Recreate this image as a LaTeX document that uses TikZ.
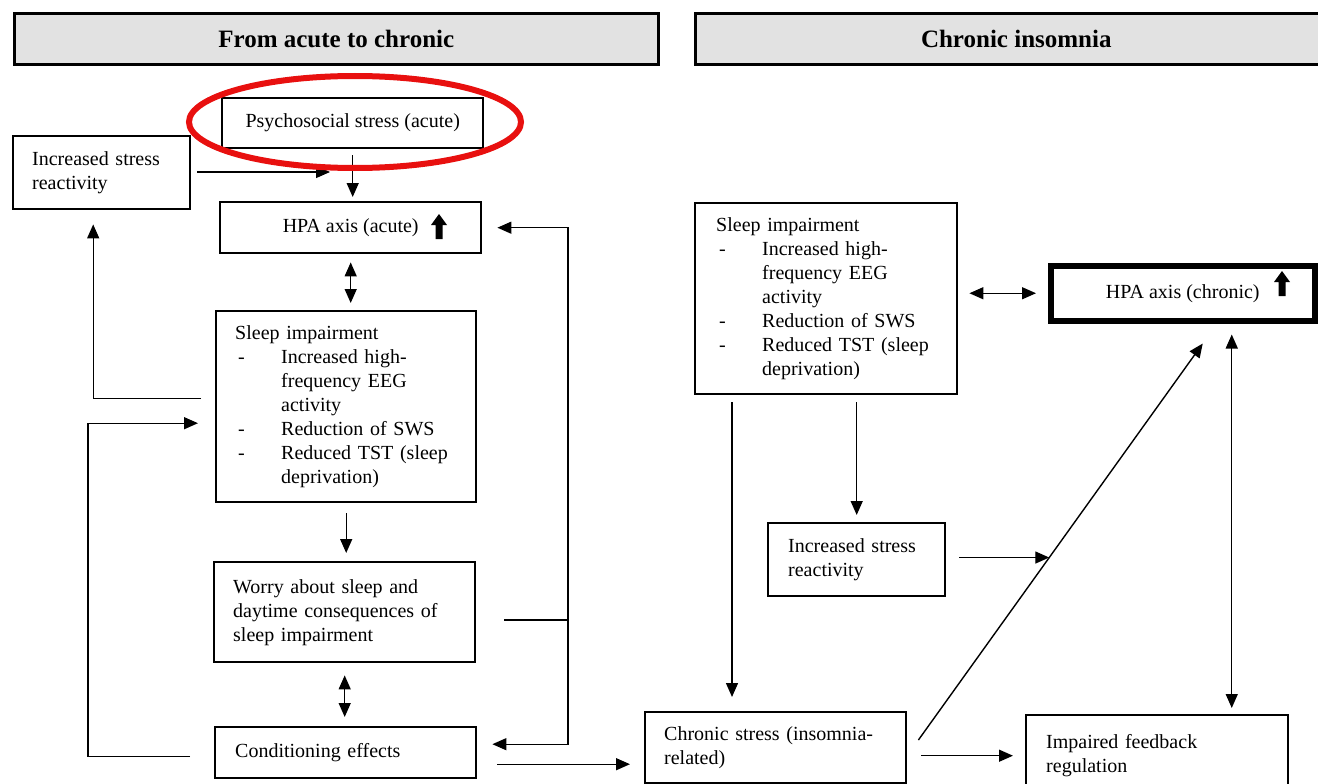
\documentclass[tikz,border=0pt]{standalone}
\usepackage{fontspec}
\setmainfont{Liberation Serif}
\usetikzlibrary{arrows.meta,calc}
\definecolor{hdrgray}{HTML}{E2E2E2}
\definecolor{ringred}{HTML}{E8100F}
\newcommand\dashitem[1]{\makebox[46pt][l]{\hspace{3pt}-}#1}
\newcommand\contitem[1]{\hspace*{46pt}#1}
\begin{document}
\begin{tikzpicture}[x=1pt,y=-1pt,
  box/.style={draw, line width=2.4pt, anchor=north west, inner ysep=0pt, font=\fontsize{20}{24}\selectfont},
  hdr/.style={box, fill=hdrgray, line width=2.6pt, font=\fontsize{25}{30}\selectfont\bfseries},
  arr/.style={line width=1.4pt, -{Triangle[length=14pt,width=12pt]}},
  dbl/.style={line width=1.4pt, {Triangle[length=14pt,width=12pt]}-{Triangle[length=14pt,width=12pt]}},
  ln/.style={line width=1.4pt},
  bigup/.pic={\fill (0,0) -- (-8,11) -- (-3.5,11) -- (-3.5,25) -- (3.5,25) -- (3.5,11) -- (8,11) -- cycle;}]
\useasboundingbox (0,0) rectangle (1318,784);

% headers
\node[hdr, minimum width=644, minimum height=51] (hdrL) at (13,12) {From acute to chronic};
\node[hdr, minimum width=642, minimum height=51] (hdrR) at (694,12) {Chronic insomnia};

% left column
\node[box, minimum width=261, minimum height=50] (psy) at (221,97) {Psychosocial stress (acute)};
\node[box, minimum width=177, minimum height=73, text width=139, inner xsep=19, align=left] (isrL) at (12,135) {Increased stress\\reactivity};
\node[box, minimum width=261, minimum height=51] (hpaA) at (219,201) {HPA axis (acute)};
\pic at (439,214) {bigup};
\node[box, minimum width=260, minimum height=191, text width=222, inner xsep=19, align=left] (sleepL) at (215,310) {Sleep impairment\\
\dashitem{Increased high-}\\
\contitem{frequency EEG}\\
\contitem{activity}\\
\dashitem{Reduction of SWS}\\
\dashitem{Reduced TST (sleep}\\
\contitem{deprivation)}};
\node[box, minimum width=261, minimum height=100, text width=223, inner xsep=19, align=left] (worry) at (213,561) {Worry about sleep and\\daytime consequences of\\sleep impairment};
\node[box, minimum width=261, minimum height=51, text width=221, inner xsep=20, align=left] (cond) at (214,726) {Conditioning effects};

% right column
\node[box, minimum width=262, minimum height=191, text width=220, inner xsep=21, align=left] (sleepR) at (694,202) {Sleep impairment\\
\dashitem{Increased high-}\\
\contitem{frequency EEG}\\
\contitem{activity}\\
\dashitem{Reduction of SWS}\\
\dashitem{Reduced TST (sleep}\\
\contitem{deprivation)}};
\node[box, line width=5.5pt, minimum width=264, minimum height=55] (hpaC) at (1048,263) {HPA axis (chronic)};
\pic at (1282,271) {bigup};
\node[box, minimum width=177, minimum height=73, text width=137, inner xsep=20, align=left] (isrR) at (767,522) {Increased stress\\reactivity};
\node[box, minimum width=261, minimum height=71, text width=223, inner xsep=19, align=left] (chs) at (644,711) {Chronic stress (insomnia-\\related)};
\node[box, minimum width=262, minimum height=81, text width=222, inner xsep=20, align=left] (imp) at (1025,714) {Impaired feedback\\regulation};

% left connectors
\coordinate (c1) at (330,172);
\draw[arr, shorten <=6pt] (isrL.east |- c1) -- (c1);
\draw[arr, shorten <=6pt, shorten >=4pt] (psy.south) -- (psy.south |- hpaA.north);
\draw[dbl, shorten <=8pt, shorten >=7pt] (hpaA.south) -- (hpaA.south |- sleepL.north);
\draw[arr] ([xshift=-14pt,yshift=8.5pt]sleepL.west) -| ([xshift=-8.5pt,yshift=-14pt]isrL.south);
\draw[arr] ([xshift=-24pt,yshift=-3.5pt]cond.west) -- ++(-102,0) |- ([xshift=-17pt,yshift=-16.5pt]sleepL.west);
\draw[arr, shorten <=10pt, shorten >=8pt] (sleepL.south) -- (sleepL.south |- worry.north);
\coordinate (w1) at (568,620);
\draw[ln, shorten <=28pt] (worry.east |- w1) -- (w1);
\draw[arr, shorten >=15pt] (w1) |- (hpaA.east);
\draw[arr, shorten >=15pt] (w1) |- ([yshift=8.5pt]cond.east);
\draw[dbl, shorten <=12pt, shorten >=9pt] (worry.south) -- (worry.south |- cond.north);
\coordinate (ce) at ([yshift=-11.5pt]cond.east);
\draw[arr, shorten <=20pt, shorten >=14pt] (ce) -- (ce -| chs.west);

% right connectors
\draw[dbl, shorten <=11pt, shorten >=12pt] (sleepR.east |- hpaC.west) -- (hpaC.west);
\coordinate (sr1) at ([xshift=38pt,yshift=-7pt]sleepR.south west);
\draw[arr, shorten >=14pt] (sr1) -- (sr1 |- chs.north);
\draw[arr, shorten <=7pt, shorten >=7pt] (sleepR.south -| isrR.north) -- (isrR.north);
\coordinate (d1) at ([xshift=11pt,yshift=-29pt]chs.north east);
\coordinate (d2) at ([xshift=20pt,yshift=-20pt]hpaC.south);
\draw[arr] (d1) -- (d2);
\coordinate (dm) at ($(d1)!0.4602!(d2)$);
\draw[arr, shorten <=13pt] (isrR.east |- dm) -- (dm);
\draw[arr, shorten <=14pt, shorten >=12pt] (chs.east |- imp.west) -- (imp.west);
\coordinate (h1) at ([xshift=49pt,yshift=-11pt]hpaC.south);
\draw[dbl, shorten >=6pt] (h1) -- (h1 |- imp.north);

% red highlight
\draw[ringred, line width=6pt] (355,122) ellipse [x radius=166pt, y radius=46pt];
\end{tikzpicture}
\end{document}
